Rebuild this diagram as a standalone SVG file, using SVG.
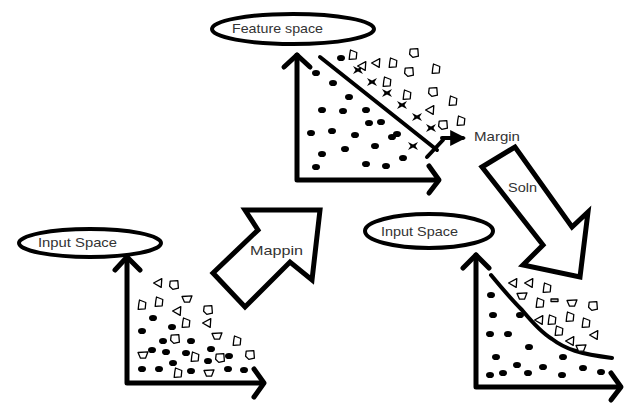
<svg xmlns="http://www.w3.org/2000/svg" xmlns:xlink="http://www.w3.org/1999/xlink" width="627" height="404" viewBox="0 0 627 404">
<style>
.bg{fill:#ffffff}
.ell{fill:#ffffff;stroke:#000;stroke-width:4}
.axis{fill:none;stroke:#000;stroke-width:5;stroke-linecap:round;stroke-linejoin:round}
.line{fill:none;stroke:#000;stroke-width:4;stroke-linecap:round;stroke-linejoin:round}
.blk{fill:#ffffff;stroke:#000;stroke-width:5;stroke-linejoin:miter}
.lbl{font-family:"Liberation Sans","Open Sans",sans-serif;font-size:13px;fill:#333333}
.h{fill:#ffffff;stroke:#000;stroke-width:1.3;stroke-linejoin:round}
.d{fill:#000}
</style>
<defs>
<path id="h1" class="h" d="M-3.8,-3.8 L3.8,-4.4 L4.4,3.2 L-1.2,4.4 L-4.4,1.2 Z"/>
<path id="h2" class="h" d="M-2.5,-5 L3.8,-2.5 L3.2,3.8 L-3.8,4.4 L-3.2,-1.2 Z"/>
<path id="h3" class="h" d="M-4.4,0 L3.8,-4.4 L3.2,4.4 Z"/>
<path id="h4" class="h" d="M-5,-2.5 L5,-3.2 L2.5,3.2 L-2.5,3.2 Z"/>
<ellipse id="dt" class="d" rx="4" ry="3.1"/>
<polygon id="st" class="d" points="-5,-4 0,-1.5 5,-4 2.5,0 5,4 0,1.5 -5,4 -2.5,0"/>
<marker id="ah" viewBox="0 0 10 10" refX="8" refY="5" markerWidth="4" markerHeight="4" orient="auto">
<path d="M0,0 L10,5 L0,10 Z" fill="#000"/>
</marker>
</defs>
<rect class="bg" x="0" y="0" width="627" height="404"/>

<g id="feature-space">
<ellipse class="ell" cx="293" cy="29" rx="81" ry="15"/>
<text class="lbl" x="232" y="33" textLength="91" lengthAdjust="spacingAndGlyphs">Feature space</text>
<path class="axis" d="M297,55 L297,180 L438,180"/>
<path class="axis" d="M284,67 L297,55 L310,67"/>
<path class="axis" d="M429,166 L439,180 L429,193"/>
<path class="line" d="M320,57 L437,150"/>
<use href="#dt" x="316" y="73"/><use href="#dt" x="333" y="83"/><use href="#dt" x="349" y="97"/>
<use href="#dt" x="366" y="110"/><use href="#dt" x="369" y="123"/><use href="#dt" x="381" y="122"/>
<use href="#dt" x="322" y="110"/><use href="#dt" x="343" y="111"/><use href="#dt" x="311" y="133"/>
<use href="#dt" x="332" y="131"/><use href="#dt" x="355" y="135"/><use href="#dt" x="375" y="146"/>
<use href="#dt" x="392" y="137"/><use href="#dt" x="397" y="134"/><use href="#dt" x="322" y="154"/>
<use href="#dt" x="345" y="149"/><use href="#dt" x="403" y="158"/><use href="#dt" x="316" y="167"/>
<use href="#dt" x="366" y="164"/><use href="#dt" x="386" y="166"/><use href="#dt" x="341" y="58"/>
<use href="#st" x="358" y="70"/><use href="#st" x="372" y="82"/><use href="#st" x="387" y="93"/>
<use href="#st" x="402" y="105"/><use href="#st" x="417" y="117"/><use href="#st" x="431" y="128"/>
<use href="#st" x="413" y="146"/>
<use href="#h2" x="353" y="55"/><use href="#h3" x="362" y="66"/><use href="#h3" x="376" y="63"/>
<use href="#h2" x="393" y="63"/><use href="#h1" x="414" y="53"/><use href="#h1" x="409" y="72"/>
<use href="#h2" x="436" y="69"/><use href="#h2" x="387" y="82"/><use href="#h2" x="407" y="95"/>
<use href="#h1" x="433" y="92"/><use href="#h2" x="453" y="101"/><use href="#h3" x="430" y="110"/>
<use href="#h1" x="443" y="125"/><use href="#h2" x="461" y="121"/>
</g>

<g id="input-space-left">
<ellipse class="ell" cx="90" cy="243" rx="71" ry="14"/>
<text class="lbl" x="38" y="247" textLength="79" lengthAdjust="spacingAndGlyphs">Input Space</text>
<path class="axis" d="M127,257 L127,383 L262,383"/>
<path class="axis" d="M115,270 L127,257 L140,270"/>
<path class="axis" d="M254,369 L264,383 L254,397"/>
<use href="#h3" x="158" y="283"/><use href="#h1" x="174" y="285"/><use href="#h2" x="142" y="305"/>
<use href="#h2" x="159" y="302"/><use href="#h4" x="187" y="299"/><use href="#h3" x="177" y="311"/>
<use href="#h1" x="208" y="310"/><use href="#h2" x="186" y="323"/><use href="#h3" x="207" y="323"/>
<use href="#h1" x="175" y="339"/><use href="#h4" x="217" y="336"/><use href="#h2" x="237" y="341"/>
<use href="#h4" x="143" y="355"/><use href="#h2" x="195" y="357"/><use href="#h1" x="220" y="358"/>
<use href="#h1" x="250" y="355"/><use href="#h2" x="178" y="373"/><use href="#h4" x="209" y="373"/>
<use href="#dt" x="153" y="318"/><use href="#dt" x="142" y="331"/><use href="#dt" x="172" y="327"/>
<use href="#dt" x="163" y="341"/><use href="#dt" x="191" y="341"/><use href="#dt" x="152" y="350"/>
<use href="#dt" x="166" y="352"/><use href="#dt" x="186" y="353"/><use href="#dt" x="211" y="349"/>
<use href="#dt" x="173" y="363"/><use href="#dt" x="208" y="361"/><use href="#dt" x="229" y="356"/>
<use href="#dt" x="142" y="369"/><use href="#dt" x="159" y="369"/><use href="#dt" x="191" y="371"/>
<use href="#dt" x="228" y="369"/><use href="#dt" x="244" y="370"/>
</g>

<g id="input-space-right">
<ellipse class="ell" cx="429" cy="231" rx="64" ry="17"/>
<text class="lbl" x="381" y="236" textLength="77" lengthAdjust="spacingAndGlyphs">Input Space</text>
<path class="axis" d="M476,255 L476,387 L620,387"/>
<path class="axis" d="M463,268 L476,255 L489,268"/>
<path class="axis" d="M611,373 L621,387 L611,400"/>
<path class="line" d="M491,275 C505,292 515,303 522,310 C532,322 542,333 552,339 C565,349 580,354 612,358"/>
<use href="#dt" x="491" y="295"/><use href="#dt" x="493" y="315"/><use href="#dt" x="520" y="315"/>
<use href="#dt" x="490" y="334"/><use href="#dt" x="508" y="334"/><use href="#dt" x="529" y="347"/>
<use href="#dt" x="496" y="357"/><use href="#dt" x="563" y="357"/><use href="#dt" x="490" y="375"/>
<use href="#dt" x="503" y="373"/><use href="#dt" x="517" y="365"/><use href="#dt" x="528" y="373"/>
<use href="#dt" x="543" y="367"/><use href="#dt" x="562" y="375"/><use href="#dt" x="583" y="368"/>
<use href="#dt" x="601" y="372"/>
<use href="#h3" x="513" y="283"/><use href="#h3" x="529" y="283"/><use href="#h2" x="547" y="288"/>
<use href="#h4" x="522" y="296"/><use href="#h2" x="540" y="303"/>
<rect x="551" y="299" width="7" height="2.5" class="h"/>
<use href="#h4" x="572" y="303"/><use href="#h1" x="593" y="306"/><use href="#h3" x="539" y="320"/>
<use href="#h2" x="552" y="320"/><use href="#h2" x="570" y="317"/><use href="#h2" x="586" y="323"/>
<use href="#h2" x="559" y="331"/><use href="#h3" x="594" y="335"/><use href="#h3" x="570" y="341"/>
<use href="#h4" x="581" y="348"/>
</g>

<g id="connectors">
<g id="margin-arrow">
<path class="line" d="M427,157 L443,140"/>
<path class="line" d="M442,138 L463,138" marker-end="url(#ah)"/>
<text class="lbl" x="474" y="141" textLength="46" lengthAdjust="spacingAndGlyphs">Margin</text>
</g>
<g id="mappin-arrow">
<polygon class="blk" points="245,210 320,210 312,280 290,262 245,307 213,273 258,230"/>
<text class="lbl" x="250" y="255" textLength="53" lengthAdjust="spacingAndGlyphs">Mappin</text>
</g>
<g id="soln-arrow">
<polygon class="blk" points="482,167 515,147 572,227 588,212 580,277 523,265 543,245"/>
<text class="lbl" x="508" y="192" textLength="29" lengthAdjust="spacingAndGlyphs">Soln</text>
</g>
</g>
</svg>
